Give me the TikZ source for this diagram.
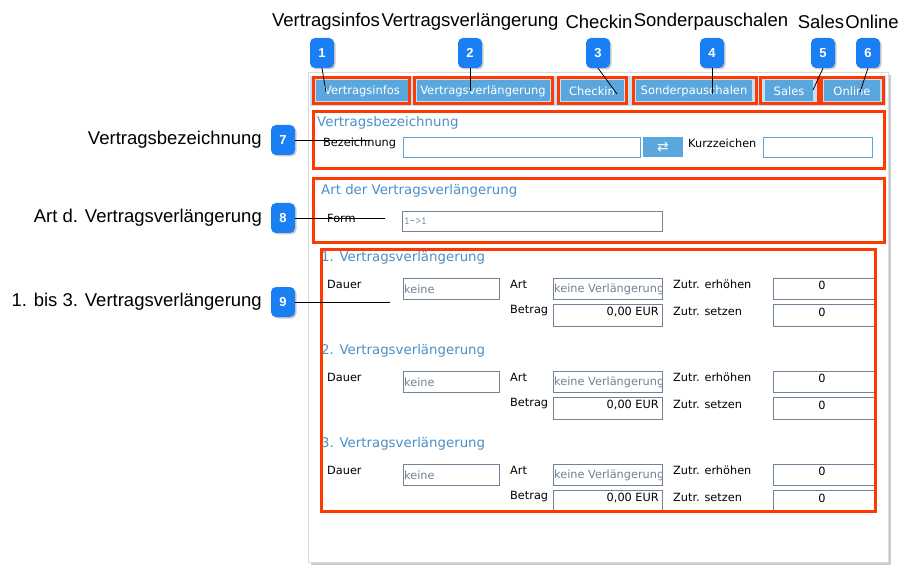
\documentclass[tikz,border=0pt]{standalone}
\usepackage{fontspec}
\setmainfont{Liberation Sans}
\newfontfamily\uifont{DejaVu Sans}[Scale=0.92]
\usetikzlibrary{positioning,shadows}
\definecolor{tabblue}{HTML}{5AA7DE}
\definecolor{badgeblue}{HTML}{1A7FF2}
\definecolor{hlred}{HTML}{FF3A00}
\definecolor{titleblue}{HTML}{4A90C8}
\definecolor{fieldgray}{HTML}{6F8296}
\tikzset{
  badge/.style={rectangle, rounded corners=5pt, fill=badgeblue, text=white, minimum width=24pt, minimum height=30pt, font=\fontsize{13}{13}\selectfont\bfseries, drop shadow={shadow xshift=1.5pt, shadow yshift=-1.5pt, opacity=0.4}},
  toplabel/.style={font=\fontsize{18.5}{18.5}\selectfont, inner sep=0pt},
  sidelabel/.style={font=\fontsize{18.5}{18.5}\selectfont, inner sep=0pt, anchor=east},
  tab/.style={fill=tabblue, text=white, font=\uifont\fontsize{12.5}{12.5}\selectfont, minimum height=21pt, inner sep=0pt},
  hlbox/.style={draw=hlred, line width=3pt},
  field/.style={draw=fieldgray, fill=white, line width=0.6pt},
  ui/.style={font=\uifont\fontsize{12.3}{12.3}\selectfont, inner sep=0pt, anchor=west},
  uititle/.style={font=\uifont\fontsize{14.5}{14.5}\selectfont, text=titleblue, inner sep=0pt, anchor=west},
  lead/.style={draw=black, line width=0.8pt}
}
\begin{document}
\begin{tikzpicture}[x=1pt, y=-1pt]
  \useasboundingbox (0,0) rectangle (916,572);
  % Panel
  \fill[gray!40] (311,75) rectangle (891,565);
  \fill[white, draw=gray!30] (308,72) rectangle (888,562);
  \fill[tabblue!35] (310,76) rectangle (886,106);
  % Tabs
  \node (t-1) [tab, minimum width=92pt] at (362,91) {Vertragsinfos};
  \node (t-2) [tab, minimum width=133pt] at (483,91) {Vertragsverlängerung};
  \node (t-3) [tab, minimum width=63pt] at (592,91) {Checkin};
  \node (t-4) [tab, minimum width=116pt] at (694,91) {Sonderpauschalen};
  \node (t-5) [tab, minimum width=48pt] at (789,91) {Sales};
  \node (t-6) [tab, minimum width=56pt] at (852,91) {Online};
  \draw[hlbox] (313,78) rectangle (409,104);
  \draw[hlbox] (414,78) rectangle (552,104);
  \draw[hlbox] (558,78) rectangle (626,104);
  \draw[hlbox] (633,78) rectangle (756,104);
  \draw[hlbox] (760,78) rectangle (818,104);
  \draw[hlbox] (821,78) rectangle (883,104);
  \draw[hlbox] (313,112) rectangle (884,169);
  \draw[hlbox] (313,179) rectangle (884,243);
  % Vertragsbezeichnung
  \node (s-7) [uititle] at (317,123) {Vertragsbezeichnung};
  \node (l-bez) [ui] at (323,143) {Bezeichnung};
  \draw[field, draw=tabblue] (403,137) rectangle (640,157);
  \node (btn) [fill=tabblue, minimum width=40pt, minimum height=20pt, text=white, font=\uifont\fontsize{15}{15}\selectfont] at (663,147) {⇄};
  \node (l-kurz) [ui] at (688,143) {Kurzzeichen};
  \draw[field, draw=tabblue] (763,137) rectangle (872,157);
  % Art der Vertragsverlaengerung
  \node (s-8) [uititle] at (321,191) {Art der Vertragsverlängerung};
  \node (l-form) [ui] at (327,218) {Form};
  \draw[field] (402,211) rectangle (662,231);
  \node (v-form) [ui, font=\ttfamily\fontsize{11}{11}\selectfont, text=fieldgray] at (404,221) {1->1};
  % Vertragsverlaengerungen
  \foreach \n [count=\i from 0] in {1,2,3} {
    \pgfmathsetmacro{\dy}{93*\i}
    \begin{scope}[yshift=-\dy pt]
      \node (s-9-\n) [uititle] at (321,258) {\n. Vertragsverlängerung};
      \node (l-dauer-\n) [ui] at (327,284) {Dauer};
      \draw[field] (403,278) rectangle (499,299);
      \node (v-dauer-\n) [ui, text=fieldgray] at (404,289) {keine};
      \node (l-art-\n) [ui] at (510,284) {Art};
      \draw[field] (553,278) rectangle (662,299);
      \begin{scope}
        \clip (553,278) rectangle (661,299);
        \node (v-art-\n) [ui, text=fieldgray] at (554,289) {keine Verlängerung};
      \end{scope}
      \node (l-erh-\n) [ui] at (673,284) {Zutr. erhöhen};
      \draw[field] (773,278) rectangle (874,299);
      \node (v-erh-\n) [ui, anchor=center] at (822,285) {0};
      \node (l-betrag-\n) [ui] at (510,311) {Betrag};
      \draw[field] (553,304) rectangle (662,326);
      \node (v-betrag-\n) [ui, anchor=east] at (659,312) {0,00 EUR};
      \node (l-setz-\n) [ui] at (673,311) {Zutr. setzen};
      \draw[field] (773,304) rectangle (874,326);
      \node (v-setz-\n) [ui, anchor=center] at (822,312) {0};
    \end{scope}
  }
  \draw[hlbox] (321,250) rectangle (875,511);
  % Labels
  \node (h-1) [toplabel] at (326,22) {Vertragsinfos};
  \node (h-2) [toplabel] at (470,22) {Vertragsverlängerung};
  \node (h-3) [toplabel] at (599,22) {Checkin};
  \node (h-4) [toplabel] at (711,22) {Sonderpauschalen};
  \node (h-5) [toplabel] at (821,22) {Sales};
  \node (h-6) [toplabel] at (872,22) {Online};
  \node (lab-7) [sidelabel] at (262,140) {Vertragsbezeichnung};
  \node (lab-8) [sidelabel] at (262,218) {Art d. Vertragsverlängerung};
  \node (lab-9) [sidelabel] at (262,302) {1. bis 3. Vertragsverlängerung};
  % Badges
  \node (b-1) [badge] at (322,53) {1};
  \node (b-2) [badge] at (470,53) {2};
  \node (b-3) [badge] at (598,53) {3};
  \node (b-4) [badge] at (712,53) {4};
  \node (b-5) [badge] at (823,53) {5};
  \node (b-6) [badge] at (868,53) {6};
  \node (b-7) [badge] at (283,140) {7};
  \node (b-8) [badge] at (283,218) {8};
  \node (b-9) [badge] at (283,302) {9};
  % Leader lines
  \coordinate (e-1) at (326,92);
  \coordinate (e-2) at (470,91);
  \coordinate (e-3) at (617,94);
  \coordinate (e-4) at (712,94);
  \coordinate (e-5) at (813,90);
  \coordinate (e-6) at (860,92);
  \coordinate (e-7) at (370,140);
  \coordinate (e-8) at (385,218);
  \coordinate (e-9) at (390,302);
  \foreach \k in {1,...,6} { \draw[lead] (b-\k.south) -- (e-\k); }
  \foreach \k in {7,8,9} { \draw[lead] (b-\k.east) -- (e-\k); }
\end{tikzpicture}
\end{document}
